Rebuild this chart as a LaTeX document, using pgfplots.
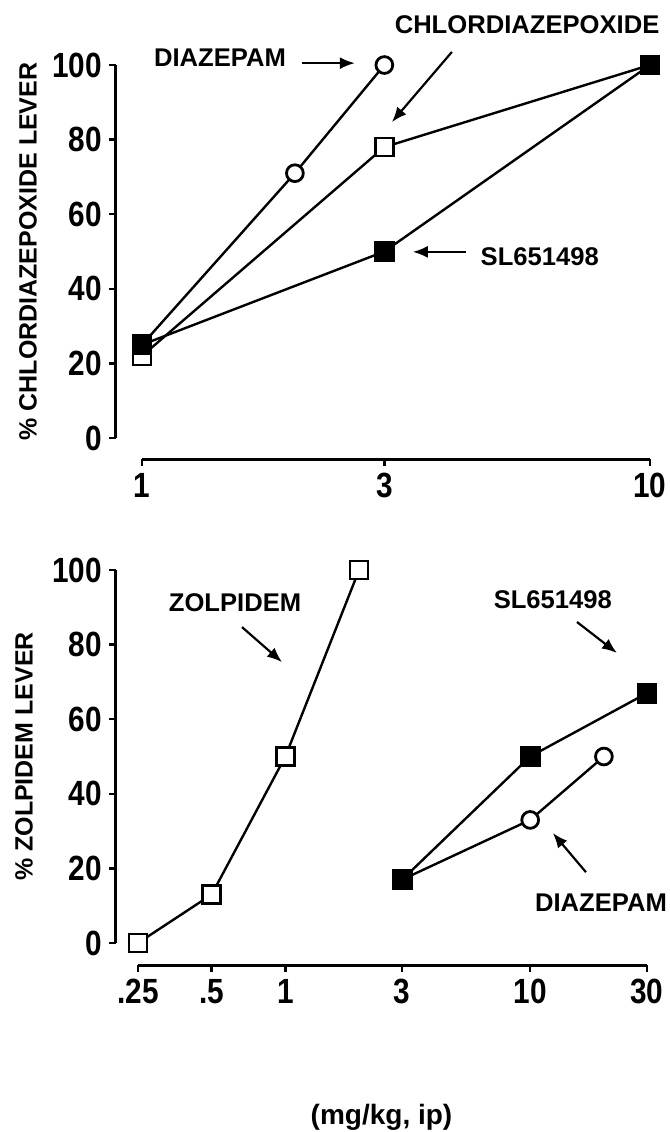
\documentclass[border=0pt]{standalone}
\usepackage{fontspec}
\setmainfont{Liberation Sans}
\newfontfamily\ticfont[FakeStretch=0.85]{Liberation Sans}
\usepackage{pgfplots}
\pgfplotsset{compat=1.18}
\usetikzlibrary{arrows.meta}

\newcommand{\annfont}{\fontsize{12.8}{14}\selectfont\bfseries}
\newcommand{\labfont}{\fontsize{12.5}{14}\selectfont\bfseries}
\newcommand{\tickfont}{\ticfont\fontsize{17.5}{19}\selectfont\bfseries}

\tikzset{ann arrow/.style={line width=1.1pt, -{Latex[length=7.5pt,width=6pt]}}}

\pgfplotsset{
  drug/.style={
    scale only axis, clip=false,
    ymin=0, ymax=100, ytick={0,20,...,100}, yticklabels={0,20,40,60,80,100},
    axis x line*=bottom, axis y line*=left,
    axis line style={line width=1.5pt},
    tick align=outside, major tick length=3.5pt,
    major tick style={line width=1.2pt, black},
    minor tick style={draw=none},
    ticklabel style={font=\tickfont},
    every axis y label/.style={at={(rel axis cs:0,0.5)}, xshift=-57pt, rotate=90, anchor=center, font=\labfont},
  },
  open circ/.style={black, line width=1.2pt, mark=*, mark size=4.2pt, mark options={fill=white, line width=1.4pt}},
  open sq/.style={black, line width=1.2pt, mark=square*, mark size=4.5pt, mark options={fill=white, line width=1.4pt}},
  full sq/.style={black, line width=1.2pt, mark=square*, mark size=4.6pt, mark options={fill=black}},
}

\begin{document}
\begin{tikzpicture}
\useasboundingbox (0,0) rectangle (335pt,-566pt);

% upper panel
\begin{axis}[drug, xmode=log,
  at={(71pt,-219pt)}, anchor=south west,
  width=254pt, height=186.5pt,
  xmin=1, xmax=10, xtick={1,3,10}, xticklabels={1,3,10},
  axis x line shift=10.5pt, axis y line shift=13pt,
  ylabel={\% CHLORDIAZEPOXIDE LEVER},
  ]
  % diazepam
  \addplot[open circ] coordinates {(1,25) (2,71) (3,100)};
  % chlordiazepoxide
  \addplot[open sq] coordinates {(1,22) (3,78) (10,100)};
  % SL651498
  \addplot[full sq] coordinates {(1,25) (3,50) (10,100)};

  \node[font=\annfont] at (rel axis cs:0.1535,1.019) {DIAZEPAM};
  \draw[ann arrow] (rel axis cs:0.315,1.005) -- (rel axis cs:0.419,1.005);
  \node[font=\annfont] at (rel axis cs:0.758,1.107) {CHLORDIAZEPOXIDE};
  \draw[ann arrow] (rel axis cs:0.610,1.035) -- (rel axis cs:0.492,0.847);
  \node[font=\annfont] at (rel axis cs:0.783,0.485) {SL651498};
  \draw[ann arrow] (rel axis cs:0.638,0.499) -- (rel axis cs:0.533,0.499);
\end{axis}

% lower panel
\begin{axis}[drug, xmode=log,
  at={(69pt,-471.5pt)}, anchor=south west,
  width=254.5pt, height=186.5pt,
  xmin=0.25, xmax=30, xtick={0.25,0.5,1,3,10,30}, xticklabels={.25,.5,1,3,10,30},
  axis x line shift=11pt, axis y line shift=11pt,
  ylabel={\% ZOLPIDEM LEVER},
  xlabel={(mg/kg, ip)},
  every axis x label/.style={at={(rel axis cs:0.5,0)}, xshift=-5.5pt, yshift=-87pt, anchor=center, font=\fontsize{14}{16}\selectfont\bfseries},
  ]
  % zolpidem
  \addplot[open sq] coordinates {(0.25,0) (0.5,13) (1,50) (2,100)};
  % diazepam
  \addplot[open circ] coordinates {(3,17) (10,33) (20,50)};
  % SL651498
  \addplot[full sq] coordinates {(3,17) (10,50) (30,67)};

  \node[font=\annfont] at (rel axis cs:0.1906,0.9115) {ZOLPIDEM};
  \draw[ann arrow] (rel axis cs:0.2043,0.847) -- (rel axis cs:0.283,0.753);
  \node[font=\annfont] at (rel axis cs:0.815,0.9196) {SL651498};
  \draw[ann arrow] (rel axis cs:0.8625,0.8606) -- (rel axis cs:0.941,0.7775);
  \node[font=\annfont] at (rel axis cs:0.9096,0.1072) {DIAZEPAM};
  \draw[ann arrow] (rel axis cs:0.880,0.190) -- (rel axis cs:0.815,0.295);
\end{axis}
\end{tikzpicture}
\end{document}
